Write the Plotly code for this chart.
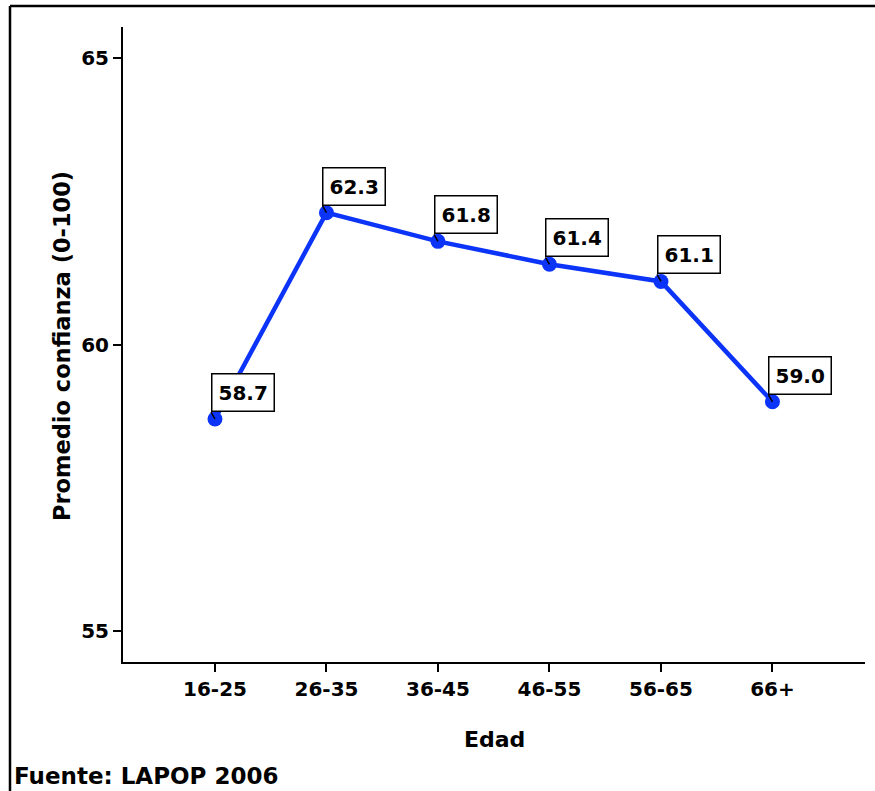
import plotly.graph_objects as go

categories = ["16-25", "26-35", "36-45", "46-55", "56-65", "66+"]
values = [58.7, 62.3, 61.8, 61.4, 61.1, 59.0]
value_labels = ["58.7", "62.3", "61.8", "61.4", "61.1", "59.0"]
y_ticks = [55, 60, 65]

BLUE = "#0b34f8"
FONT = "DejaVu Sans"

x_idx = list(range(len(categories)))

fig = go.Figure()
fig.add_trace(go.Scatter(
    x=x_idx, y=values, mode="lines+markers",
    line=dict(color=BLUE, width=4.5),
    marker=dict(color=BLUE, size=15),
    showlegend=False, hoverinfo="skip", cliponaxis=False,
))

for xi, v, lab in zip(x_idx, values, value_labels):
    fig.add_annotation(
        x=xi, y=v, text=lab, showarrow=True, arrowhead=0, arrowwidth=1.5,
        arrowcolor="black", ax=-4, ay=-7, xanchor="left", yanchor="bottom",
        bgcolor="white", bordercolor="black", borderwidth=1.5, borderpad=6,
        font=dict(family=FONT, size=20, color="black", weight="bold"),
    )

fig.update_layout(
    width=875, height=791,
    margin=dict(l=123, r=10, t=27, b=129),
    paper_bgcolor="white", plot_bgcolor="white",
    font=dict(family=FONT, color="black", weight="bold"),
    xaxis=dict(
        range=[-0.825, 5.83], tickmode="array", tickvals=x_idx, ticktext=categories,
        showgrid=False, zeroline=False, showline=True, linecolor="black", linewidth=2,
        ticks="outside", ticklen=8, tickwidth=2, tickcolor="black",
        tickfont=dict(family=FONT, size=20, color="black", weight="bold"),
    ),
    yaxis=dict(
        range=[54.46, 65.54], tickmode="array", tickvals=y_ticks,
        showgrid=False, zeroline=False, showline=True, linecolor="black", linewidth=2,
        ticks="outside", ticklen=8, tickwidth=2, tickcolor="black",
        tickfont=dict(family=FONT, size=20, color="black", weight="bold"),
    ),
    shapes=[
        dict(type="line", xref="paper", yref="paper", x0=-0.1523, x1=1.02, y0=1.0331, y1=1.0331,
             line=dict(color="black", width=2.5)),
        dict(type="line", xref="paper", yref="paper", x0=-0.1523, x1=-0.1523, y0=1.0331, y1=-0.21,
             line=dict(color="black", width=2.5)),
    ],
)

fig.add_annotation(xref="paper", yref="paper", x=0.5, y=-0.1228, text="Edad",
                   showarrow=False, xanchor="center", yanchor="middle",
                   font=dict(family=FONT, size=22, color="black", weight="bold"))
fig.add_annotation(xref="paper", yref="paper", x=-0.0822, y=0.4976,
                   text="Promedio confianza (0-100)", textangle=-90,
                   showarrow=False, xanchor="center", yanchor="middle",
                   font=dict(family=FONT, size=22.5, color="black", weight="bold"))
fig.add_annotation(xref="paper", yref="paper", x=-0.1496, y=-0.1795,
                   text="Fuente: LAPOP 2006",
                   showarrow=False, xanchor="left", yanchor="middle",
                   font=dict(family=FONT, size=23, color="black", weight="bold"))

fig.write_html("out.html", config={"displayModeBar": False, "staticPlot": True})

# remove default browser body margin so the figure fills the window exactly
with open("out.html", "r", encoding="utf-8") as f:
    html = f.read()
html = html.replace("<body>", '<body style="margin:0;padding:0;overflow:hidden">', 1)
with open("out.html", "w", encoding="utf-8") as f:
    f.write(html)
